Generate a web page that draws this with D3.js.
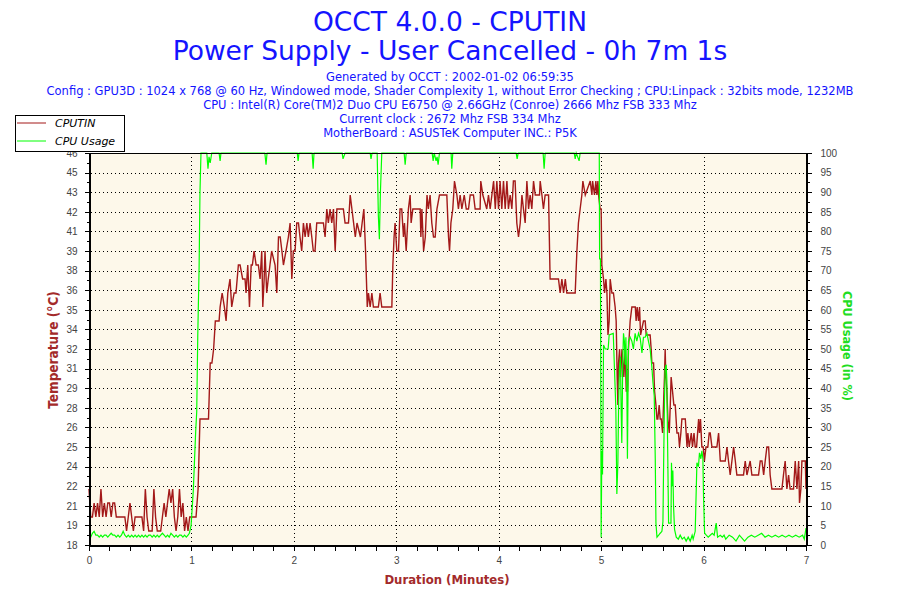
<!DOCTYPE html>
<html>
<head>
<meta charset="utf-8">
<script src="https://cdn.jsdelivr.net/npm/d3@7"></script>
<style>
  body { margin: 0; background: #ffffff; }
</style>
</head>
<body>
<div id="container"></div>
<script>
// ---- values ----
const titleLines = ['OCCT 4.0.0 - CPUTIN', 'Power Supply - User Cancelled - 0h 7m 1s'];
const infoLines = [
    'Generated by OCCT : 2002-01-02 06:59:35',
    'Config : GPU3D : 1024 x 768 @ 60 Hz, Windowed mode, Shader Complexity 1, without Error Checking ; CPU:Linpack : 32bits mode, 1232MB',
    'CPU : Intel(R) Core(TM)2 Duo CPU E6750 @ 2.66GHz (Conroe) 2666 Mhz FSB 333 Mhz',
    'Current clock : 2672 Mhz FSB 334 Mhz',
    'MotherBoard : ASUSTeK Computer INC.: P5K'
];
const seriesNames = ['CPUTIN', 'CPU Usage'];
const minuteTicks = [0, 1, 2, 3, 4, 5, 6, 7];
const tempTickLabels = ['18', '19', '21', '22', '24', '25', '26', '28', '29', '31', '32',
                        '34', '35', '36', '38', '39', '41', '42', '43', '45', '46'];
const cpuTickValues = [0, 5, 10, 15, 20, 25, 30, 35, 40, 45, 50, 55, 60, 65, 70, 75, 80, 85, 90, 95, 100];

// [seconds, °C]
const cputin = [
    [0,22],[1,20],[2,20],[3,21],[4,20],[5,21],[6,20],[7,22],[8,20],[9,21],[10,20],[11,21],[12,21],[13,20],
    [14,21],[15,21],[16,20],[21,20],[22,19],[23,20],[24,21],[25,20],[26,19],[27,20],[31,20],[32,19],[33,22],
    [34,20],[35,19],[37,19],[38,22],[39,20],[40,19],[42,19],[43,20],[44,21],[45,20],[46,21],[47,22],[48,21],
    [49,22],[50,20],[51,19],[52,20],[53,22],[54,20],[55,21],[56,19],[57,20],[58,19],[59,20],[62.7,20],
    [63.9,22],[65,27],[70,27],[71,31],[72,31],[73,32],[74,34],[76.2,34],[76.8,35],[78,36],[79.3,35],[80.3,34],
    [81.3,36],[82.6,37],[83.6,35],[85,36],[86.1,36],[87.5,38],[88.5,38],[90,37],[91.4,37],[92,36],[93,38],
    [94,35],[95,38],[95.7,38],[96.7,39],[97.9,38],[99.2,38],[100.2,37],[101.2,39],[101.8,35],[102.6,37],
    [103.1,39],[104.1,36],[105,37],[106,38],[107,39],[109,38],[110,36],[111,40],[112,40],[113,39],[113.9,38],
    [115.4,39],[116.8,40],[117.8,41],[118.8,37],[119.7,39],[120.7,39],[121.7,41],[122.7,41],[123.6,40],
    [124.6,39],[125.6,41],[126.6,40],[127.6,41],[128.5,40],[129.5,41],[130.5,40],[131.4,39],[132.4,39],
    [133.4,41],[137.3,41],[138.3,40],[139.3,42],[140.2,41],[141.2,42],[142.2,41],[143.2,42],[144.2,39],
    [145.2,42],[149,42],[150,41],[152,41],[153,43],[154,42],[155,41],[156,40],[157,41],[159,40],[160,41],
    [161,42],[162,39],[163,35],[163.7,36],[164.7,35],[165.7,36],[166.6,35],[169.5,35],[170.5,36],[171.5,35],
    [177.4,35],[178,38],[178.7,40],[179.3,41],[180.3,39],[181.3,39],[182.2,42],[183.2,42],[184.2,40],
    [184.8,41],[185.8,39],[187.1,42],[188.1,43],[188.7,41],[189.7,42],[194,42],[194.4,40],[195,42],[196,39],
    [197,40],[198,43],[198.8,42],[199.8,43],[200.8,41],[201.8,40],[202.8,40],[203.8,42],[205.3,43],
    [209.6,43],[210.6,40],[211.2,39],[212,41],[213.1,42],[214.1,44],[215.5,43],[216.4,42],[217.4,43],
    [218.4,42],[219.8,43],[221,42],[222.3,42],[223.3,43],[225.2,43],[226.2,42],[229.1,42],[229.5,44],
    [230.7,43],[233,42],[234,43],[235,42],[236,43],[237,44],[238,42],[238.9,44],[239.9,42],[240.8,44],
    [241.8,42],[242.8,44],[243.8,42],[244.8,44],[245.7,42],[246.7,43],[247.7,42],[248.6,44],[249.6,44],
    [250.6,41],[251.6,40],[252.6,41],[253.6,43],[254.5,42],[255.5,41],[256.5,44],[257.5,42],[258.4,43],
    [259.4,42],[260.4,44],[261.4,43],[263.9,43],[264.3,44],[265.3,43],[266.2,42],[267.2,43],[269.2,43],
    [270.1,37],[274,37],[275,37],[276,36],[277,37],[278,36],[279,37],[279.9,36],[284.8,36],[285.8,39],
    [286.7,41],[287.7,42],[288.7,43],[289.3,44],[290.7,43],[293.6,44],[294.6,43],[295,44],[296.1,43],
    [296.9,44],[297.5,43],[298.1,44],[298.5,43],[299.4,42],[300,42],[300.4,38],[301.4,37],[302,36],
    [302.8,37],[303.4,36],[304,33],[304.7,34],[305.3,37],[306.3,36],[307.2,36],[308.2,35],[308.8,34],
    [309.4,30],[309.8,28],[310.2,31],[310.8,32],[311.4,30],[312.2,32],[312.8,31],[313.3,30],[314.1,32],
    [314.7,29],[315.5,29],[316,32],[317,34],[318,35],[320,35],[320.5,34],[321.1,35],[321.9,34],[322.5,35],
    [323.1,33],[324.8,34],[325.8,34],[326.4,33],[328.7,33],[329.3,32],[329.7,31],[330.7,31],[331.3,29],
    [332.1,28],[332.7,27],[333.2,27],[334,28],[334.6,27],[335.2,27],[336,26],[336.8,29],[337.1,30],
    [337.5,32],[337.9,30],[338.5,29],[339.1,27],[339.9,26],[340.5,28],[341,30],[341.8,29],[342.6,28],
    [343.4,28],[344.4,26],[345.3,26],[345.9,25],[346.7,26],[347.3,27],[349.3,27],[350.3,25],[350.8,26],
    [351.6,25],[352.8,26],[353.5,25],[354.4,26],[355.1,25],[355.9,25],[356.5,26],[357.1,27],[357.6,26],
    [358.2,27],[359,25],[359.8,25],[360.5,24],[361.4,25],[362.5,25],[363.3,26],[363.9,26],[364.9,25],
    [365.8,25],[367.8,25],[368.8,26],[369.8,24],[372.7,24],[373.7,25],[374.6,24],[375.6,23],[376.6,24],
    [377.6,25],[378.6,24],[379.5,23],[383.4,23],[384.4,24],[385.4,23],[387.3,24],[388.3,23],[392.2,23],
    [393.2,24],[394.2,24],[395.2,23],[396.1,24],[397.1,25],[398.1,25],[399,23],[400,22],[405.9,22],
    [406.8,23],[407.8,24],[408.8,22],[409.8,23],[410.7,22],[412.7,22],[413.7,24],[414.7,22],[415.7,24],
    [416.2,21],[417,22],[417.6,24],[419.6,24],[420,22]
];

// [seconds, %]
const cpuUsage = [
    [0,2.5],[1,2],[2,3],[3,3.5],[4,2.5],[5,2.5],[6,2],[7,2.5],[8,2],[9,2.5],[10,2.5],[11,2],[12,2.5],[13,3],
    [14,2.5],[15,2.5],[16,2],[17,2.5],[18,2],[19,2.5],[20,3.5],[21,2.5],[22,2],[23,2.5],[24,2],[25,2.5],
    [26,2],[27,2.5],[28,2],[29,2.5],[30,2],[31,2.5],[32,2],[33,2.5],[34,2],[35,2.5],[36,2.5],[37,2],[38,2.5],
    [39,2],[40,2.5],[41,2],[42,2.5],[43,3],[44,2.5],[45,2],[46,2.5],[47,2],[48,3],[49,2.5],[50,2],[51,2.5],
    [52,2],[53,2.5],[54,2.5],[55,2],[56,2.5],[57,2],[58,2.5],[58.8,3],[59.8,5],[61.1,14],[62.5,29],[63.1,34],
    [63.7,53],[64.5,71],[65,90],[65.6,100],[69,100],[69.7,96],[70.3,99],[71,97.5],[71.9,100],[76.2,100],
    [76.8,98],[77.3,100],[103,100],[103.7,97],[104.3,100],[122,100],[122.5,98],[123,100],[130.7,100],
    [131.3,96],[131.8,100],[148.3,100],[148.8,98.5],[150,100],[164.7,100],[165.2,98.5],[165.8,100],
    [168.8,100],[169.5,84],[170.1,78],[170.7,90],[171.5,100],[184.6,100],[185.2,97],[185.8,100],[201,100],
    [201.6,98],[202.2,100],[203.3,98],[203.9,99],[204.5,97],[205.3,100],[212.1,100],[212.5,96],[213.1,100],
    [250.2,100],[250.8,98.5],[251.4,100],[266,100],[266.6,96],[267.2,100],[284.2,100],[284.8,98.5],
    [285.4,100],[287.1,98],[287.7,100],[298.9,100],[299.1,73],[299.6,73],[300,2],[300.4,24],[300.8,18],
    [301.4,51],[302.4,50],[304.1,50],[304.7,53.6],[307.1,54],[307.8,45],[308.6,35],[309.2,13],[309.8,21],
    [310.2,35],[310.7,45],[311.3,48],[311.7,35],[312.1,26],[312.7,48],[313.1,54],[313.6,52],[314.1,46],
    [314.5,53],[315.1,38],[315.4,22],[316,52],[317,53],[318,52],[318.9,50],[319.9,54],[320.9,52],[321.9,54],
    [322.9,52.7],[323.9,49],[324.8,53],[325.8,53],[326.8,54],[327.7,52],[328.7,50],[329.7,45.5],[330.3,41.7],
    [331.1,38],[331.7,22],[332.1,5.6],[332.7,2],[333.7,2.5],[334.6,3],[335.6,3.5],[336.2,6],[336.5,17],
    [337.1,37],[337.5,45],[338.1,46],[338.5,42],[338.9,27],[339.5,5.6],[340.9,5.6],[341.2,21],[341.6,15],
    [342,19],[342.4,10],[343,4],[344,2],[345.2,1.5],[346.3,2.5],[347.5,1.5],[348.7,2],[349.8,1],[351,2],
    [352.2,1],[353.3,2.5],[353.9,1.5],[355.1,3.5],[356.1,21],[357,20],[357.6,23.5],[358.4,22],[359,24],
    [359.6,22],[360,12],[360.6,3],[361.6,2.5],[362.7,2],[363.9,2.5],[365.1,3],[366.2,2.5],[367.4,5.6],
    [368.2,2],[369.8,2.5],[371,2],[372,2.5],[373,1.5],[375,2.5],[377,2],[379,1],[381,2.5],[383,1.5],[384,1],
    [386,2],[388,2.5],[390,2],[392,2.5],[394,3],[396,2],[398,2.5],[400,2],[402,2.5],[404,2],[406,2.5],
    [408,2],[410,2.5],[412,2],[414,2.5],[416,2],[418,2.5],[419,1.5],[420,4.3]
];

window.onload = function() {
    'use strict';

    const canvas = { width: 900, height: 600 };
    const plot = { left: 89, right: 806, top: 153, bottom: 545 };

    const color = {
        title: '#1414ff',
        plotBg: '#fdf8ea',
        temp: '#a31919',
        cpu: '#00ff00',
        tempLabel: '#a32a2a',
        cpuLabel: '#22dd22',
        tick: '#444444'
    };

    const svg = d3.select('#container')
        .append('svg')
        .attr('width', canvas.width)
        .attr('height', canvas.height)
        .style('font-family', "'DejaVu Sans', Verdana, sans-serif");

    const x = d3.scaleLinear().domain([0, 420]).range([plot.left, plot.right]);
    const yT = d3.scaleLinear().domain([18, 46]).range([plot.bottom, plot.top]);
    const yP = d3.scaleLinear().domain([0, 100]).range([plot.bottom, plot.top]);

    const tempTickValues = tempTickLabels.map((d, i) => 18 + i * 28 / (tempTickLabels.length - 1));
    const px = v => Math.round(v) + 0.5;

    // titles
    svg.selectAll('text.title')
        .data(titleLines)
        .enter().append('text')
        .attr('class', 'title')
        .attr('x', canvas.width / 2)
        .attr('y', (d, i) => 31 + i * 29)
        .attr('text-anchor', 'middle')
        .attr('font-size', 26.5)
        .attr('fill', color.title)
        .text(d => d);

    svg.selectAll('text.info')
        .data(infoLines)
        .enter().append('text')
        .attr('class', 'info')
        .attr('x', canvas.width / 2)
        .attr('y', (d, i) => 80.5 + i * 14)
        .attr('text-anchor', 'middle')
        .attr('font-size', 11.5)
        .attr('fill', color.title)
        .text(d => d);

    // plot background
    svg.append('rect')
        .attr('x', plot.left)
        .attr('y', plot.top)
        .attr('width', plot.right - plot.left)
        .attr('height', plot.bottom - plot.top)
        .attr('fill', color.plotBg);

    // dotted grid
    const grid = svg.append('g')
        .attr('stroke', '#000')
        .attr('stroke-dasharray', '1,3')
        .attr('shape-rendering', 'crispEdges');

    grid.selectAll('line.h')
        .data(cpuTickValues.slice(1, -1))
        .enter().append('line')
        .attr('x1', plot.left + 2)
        .attr('x2', plot.right)
        .attr('y1', d => px(yP(d)))
        .attr('y2', d => px(yP(d)));

    grid.selectAll('line.v')
        .data(minuteTicks.slice(1, -1))
        .enter().append('line')
        .attr('x1', d => px(x(d * 60)))
        .attr('x2', d => px(x(d * 60)))
        .attr('y1', plot.top)
        .attr('y2', plot.bottom);

    // series
    const tempLine = d3.line()
        .x(d => x(d[0]))
        .y(d => yT(d[1]));

    const cpuLine = d3.line()
        .x(d => x(d[0]))
        .y(d => yP(d[1]));

    svg.append('path')
        .datum(cputin)
        .attr('fill', 'none')
        .attr('stroke', color.temp)
        .attr('stroke-width', 1.4)
        .attr('d', tempLine);

    svg.append('path')
        .datum(cpuUsage)
        .attr('fill', 'none')
        .attr('stroke', color.cpu)
        .attr('stroke-width', 1.2)
        .attr('d', cpuLine);

    // frame
    svg.append('rect')
        .attr('x', plot.left + 0.5)
        .attr('y', plot.top + 0.5)
        .attr('width', plot.right - plot.left)
        .attr('height', plot.bottom - plot.top)
        .attr('fill', 'none')
        .attr('stroke', '#000')
        .attr('shape-rendering', 'crispEdges');

    // axes
    svg.append('g')
        .attr('transform', `translate(${plot.left + 0.5},0)`)
        .call(d3.axisLeft(yT)
            .tickValues(tempTickValues)
            .tickFormat((d, i) => tempTickLabels[i])
            .tickSizeInner(5)
            .tickSizeOuter(0)
            .tickPadding(7));

    svg.append('g')
        .attr('transform', `translate(${plot.left + 0.5},0)`)
        .call(d3.axisLeft(yT)
            .tickValues(d3.pairs(tempTickValues).map(p => (p[0] + p[1]) / 2))
            .tickFormat('')
            .tickSizeInner(3)
            .tickSizeOuter(0));

    svg.append('g')
        .attr('transform', `translate(${plot.right + 0.5},0)`)
        .call(d3.axisRight(yP)
            .tickValues(cpuTickValues)
            .tickSizeInner(5)
            .tickSizeOuter(0)
            .tickPadding(9));

    svg.append('g')
        .attr('transform', `translate(${plot.right + 0.5},0)`)
        .call(d3.axisRight(yP)
            .tickValues(d3.pairs(cpuTickValues).map(p => (p[0] + p[1]) / 2))
            .tickFormat('')
            .tickSizeInner(3)
            .tickSizeOuter(0));

    svg.append('g')
        .attr('transform', `translate(0,${plot.bottom + 0.5})`)
        .call(d3.axisBottom(x)
            .tickValues(minuteTicks.map(m => m * 60))
            .tickFormat((d, i) => minuteTicks[i])
            .tickSizeInner(5)
            .tickSizeOuter(0)
            .tickPadding(6));

    svg.append('g')
        .attr('transform', `translate(0,${plot.bottom + 0.5})`)
        .call(d3.axisBottom(x)
            .tickValues(d3.range(0, 421, 12).filter(s => s % 60 !== 0))
            .tickFormat('')
            .tickSizeInner(5)
            .tickSizeOuter(0));

    svg.selectAll('.tick line')
        .attr('stroke', '#000')
        .attr('shape-rendering', 'crispEdges');
    svg.selectAll('.domain')
        .attr('stroke', '#000')
        .attr('shape-rendering', 'crispEdges');
    svg.selectAll('.tick text')
        .attr('fill', color.tick)
        .attr('font-family', "'Liberation Sans', Arial, sans-serif")
        .attr('font-size', 10);

    // axis titles
    const axisFont = "'Liberation Sans Narrow', 'DejaVu Sans Condensed', Arial, sans-serif";

    svg.append('text')
        .attr('transform', 'translate(58,350) rotate(-90)')
        .attr('text-anchor', 'middle')
        .attr('font-family', axisFont)
        .attr('font-weight', 'bold')
        .attr('font-size', 13.5)
        .attr('fill', color.tempLabel)
        .text('Temperature (°C)');

    svg.append('text')
        .attr('transform', 'translate(843,346) rotate(90)')
        .attr('text-anchor', 'middle')
        .attr('font-family', axisFont)
        .attr('font-weight', 'bold')
        .attr('font-size', 12.5)
        .attr('fill', color.cpuLabel)
        .text('CPU Usage (in %)');

    svg.append('text')
        .attr('x', 447)
        .attr('y', 584)
        .attr('text-anchor', 'middle')
        .attr('font-family', axisFont)
        .attr('font-weight', 'bold')
        .attr('font-size', 13)
        .attr('fill', color.tempLabel)
        .text('Duration (Minutes)');

    // legend
    const legend = svg.append('g');
    legend.append('rect')
        .attr('x', 15.5)
        .attr('y', 115.5)
        .attr('width', 109)
        .attr('height', 36)
        .attr('fill', '#fff')
        .attr('stroke', '#000');

    const legendColors = [color.temp, color.cpu];
    seriesNames.forEach((name, i) => {
        const ly = 123 + i * 18;
        legend.append('line')
            .attr('x1', 17)
            .attr('x2', 46)
            .attr('y1', ly)
            .attr('y2', ly)
            .attr('stroke', legendColors[i])
            .attr('stroke-width', 1);
        legend.append('text')
            .attr('x', 55)
            .attr('y', ly + 4)
            .attr('font-size', 11)
            .attr('font-style', 'italic')
            .attr('fill', '#000')
            .text(name);
    });
};
</script>
</body>
</html>
